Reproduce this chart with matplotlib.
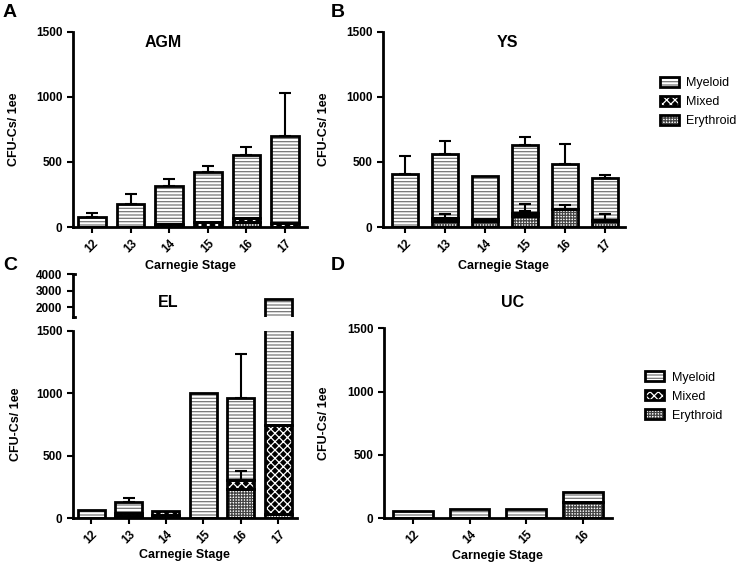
import numpy as np
import matplotlib
matplotlib.use("Agg")
import matplotlib.pyplot as plt
from matplotlib.patches import Patch
from matplotlib.legend_handler import HandlerTuple

plt.rcParams['font.family'] = ['Liberation Sans', 'DejaVu Sans']
plt.rcParams['hatch.linewidth'] = 0.9

#%% data
stages_agm = ['12', '13', '14', '15', '16', '17']
agm_ery = [0, 0, 0, 0, 38, 0]
agm_mix = [0, 0, 20, 38, 34, 31]
agm_mye = [77, 179, 298, 385, 482, 669]
agm_err = [33, 77, 51, 44, 61, 333]          # SEM on the total

stages_ys = ['12', '13', '14', '15', '16', '17']
ys_ery = [0, 44, 44, 82, 136, 46]
ys_mix = [0, 25, 20, 28, 0, 10]
ys_mye = [405, 495, 328, 518, 351, 323]
ys_ery_err = [0, 0, 0, 39, 36, 0]
ys_mix_err = [0, 34, 0, 69, 0, 47]
ys_err = [139, 98, 0, 62, 154, 21]

stages_el = ['12', '13', '14', '15', '16', '17']
el_ery = [0, 20, 30, 0, 233, 32]
el_mix = [0, 20, 26, 0, 72, 714]
el_mye = [67, 91, 0, 1000, 655, 1754]
el_mix_err = [0, 0, 0, 0, 75, 0]
el_err = [0, 35, 0, 0, 350, 0]

stages_uc = ['12', '14', '15', '16']
uc_ery = [0, 0, 0, 126]
uc_mix = [0, 0, 0, 0]
uc_mye = [60, 74, 74, 79]

#%% styles
styles = {
    'Myeloid': dict(color='white', edgecolor='#777777', hatch='-----'),
    'Mixed': dict(color='black', edgecolor='white', hatch='xxxx'),
    'Erythroid': dict(color='white', edgecolor='#444444', hatch='++++++'),
}


def stacked(ax, ery, mix, mye, width, errs=()):
    x = np.arange(len(ery))
    ery = np.array(ery, float)
    mix = np.array(mix, float)
    mye = np.array(mye, float)
    bottoms = [np.zeros_like(ery), ery, ery + mix]
    for vals, bot, name in zip([ery, mix, mye], bottoms, ['Erythroid', 'Mixed', 'Myeloid']):
        m = vals > 0
        ax.bar(x[m], vals[m], width, bottom=bot[m], linewidth=0, zorder=1, **styles[name])
        ax.bar(x[m], vals[m], width, bottom=bot[m], fill=False, edgecolor='black',
               linewidth=2, zorder=2)
    # error bars: (level index, sem)
    tops = [ery, ery + mix, ery + mix + mye]
    for level, sem in errs:
        sem = np.array(sem, float)
        m = sem > 0
        ax.errorbar(x[m], tops[level][m], yerr=[np.zeros(m.sum()), sem[m]], fmt='none',
                    ecolor='black', elinewidth=1.5, capsize=4.5, capthick=1.5, zorder=3)
    return x


def style_axes(ax, labels, xlim):
    for s in ['top', 'right']:
        ax.spines[s].set_visible(False)
    for s in ['left', 'bottom']:
        ax.spines[s].set_linewidth(2)
    ax.set_xticks(np.arange(len(labels)))
    ax.set_xticklabels(labels, rotation=45, fontsize=8.5, fontweight='bold')
    ax.set_xlim(*xlim)
    ax.tick_params(width=1.5, length=4)
    for t in ax.get_yticklabels():
        t.set_fontweight('bold')
        t.set_fontsize(8.5)


fig = plt.figure(figsize=(7.36, 5.62), dpi=100)

axA = fig.add_axes([0.0992, 0.596, 0.318, 0.3476])
axB = fig.add_axes([0.520, 0.596, 0.329, 0.3476])
axC = fig.add_axes([0.0988, 0.0777, 0.3043, 0.3339])
axC2 = fig.add_axes([0.0988, 0.4365, 0.3043, 0.0755])
axD = fig.add_axes([0.5217, 0.0777, 0.3094, 0.3381])

# A
stacked(axA, agm_ery, agm_mix, agm_mye, 0.72, errs=[(2, agm_err)])
axA.set_ylim(0, 1500)
axA.set_yticks([0, 500, 1000, 1500])
style_axes(axA, stages_agm, (-0.49, 5.57))

# B
stacked(axB, ys_ery, ys_mix, ys_mye, 0.65,
        errs=[(0, ys_ery_err), (1, ys_mix_err), (2, ys_err)])
axB.set_ylim(0, 1500)
axB.set_yticks([0, 500, 1000, 1500])
style_axes(axB, stages_ys, (-0.55, 5.5))

# C (broken axis: lower part 0-1500, upper part compressed)
stacked(axC, el_ery, el_mix, el_mye, 0.72, errs=[(1, el_mix_err), (2, el_err)])
stacked(axC2, el_ery, el_mix, el_mye, 0.72)
axC.set_ylim(0, 1500)
axC.set_yticks([0, 500, 1000, 1500])
style_axes(axC, stages_el, (-0.49, 5.49))
axC2.set_ylim(1430, 4000)
axC2.set_yticks([2000, 3000, 4000])
style_axes(axC2, stages_el, (-0.49, 5.49))
axC2.spines['bottom'].set_visible(False)
axC2.set_xticks([])
axC2.plot([0, 0.012], [0, 0], transform=axC2.transAxes, color='black', lw=2, clip_on=False)
axC2.plot([0, 0.012], [1, 1], transform=axC2.transAxes, color='black', lw=2, clip_on=False)

# D
stacked(axD, uc_ery, uc_mix, uc_mye, 0.7)
axD.set_ylim(0, 1500)
axD.set_yticks([0, 500, 1000, 1500])
style_axes(axD, stages_uc, (-0.51, 3.51))

# labels
for ax, xpos, ypos in [(axA, -0.226, -0.168), (axB, -0.219, -0.168),
                       (axC, -0.226, -0.165), (axD, -0.237, -0.165)]:
    ax.set_ylabel('CFU-Cs/ 1ee', fontsize=9, fontweight='bold')
    ax.yaxis.set_label_coords(xpos, 0.5)
    ax.set_xlabel('Carnegie Stage', fontsize=9, fontweight='bold')
    ax.xaxis.set_label_coords(0.5, ypos)

for txt, x, y in [('AGM', 0.2215, 0.9235), ('YS', 0.689, 0.9235),
                  ('EL', 0.228, 0.4626), ('UC', 0.697, 0.4626)]:
    fig.text(x, y, txt, fontsize=11.5, fontweight='bold', ha='center', va='center')

for txt, x, y in [('A', 0.0136, 0.977), ('B', 0.459, 0.977),
                  ('C', 0.0136, 0.528), ('D', 0.459, 0.528)]:
    fig.text(x, y, txt, fontsize=14, fontweight='bold', ha='center', va='center')

# legends
names = ['Myeloid', 'Mixed', 'Erythroid']
handles = [(Patch(facecolor=styles[n]['color'], edgecolor=styles[n]['edgecolor'],
                  hatch=styles[n]['hatch'], linewidth=0),
            Patch(fill=False, edgecolor='black', linewidth=2)) for n in names]
for lx, ly in [(0.897, 0.863), (0.877, 0.339)]:
    fig.legend(handles, names, loc='upper left', bbox_to_anchor=(lx, ly),
               frameon=False, fontsize=9, handlelength=1.5, handleheight=0.8,
               handletextpad=0.6, labelspacing=0.55, borderpad=0, borderaxespad=0,
               handler_map={tuple: HandlerTuple(ndivide=1, pad=0)})

fig.savefig('out.png', dpi=100)
